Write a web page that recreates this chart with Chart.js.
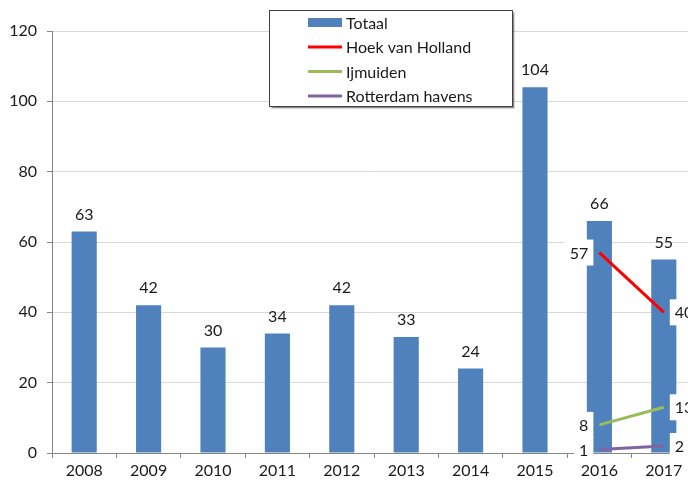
<!DOCTYPE html>
<html>
<head>
<meta charset="utf-8">
<script src="https://cdn.jsdelivr.net/npm/chart.js"></script>
<style>
  html, body { margin: 0; padding: 0; background: #fff; overflow: hidden; }
  #wrap { width: 700px; height: 485px; }
</style>
</head>
<body>
<div id="wrap"><canvas id="grafiek" width="700" height="485"></canvas></div>
<script>
// Gegevens
const jaren = ['2008', '2009', '2010', '2011', '2012', '2013', '2014', '2015', '2016', '2017'];
const totaal = [63, 42, 30, 34, 42, 33, 24, 104, 66, 55];

const lijnJaren = ['2016', '2017'];
const hoekVanHolland = [57, 40];
const ijmuiden = [8, 13];
const rotterdamHavens = [1, 2];

const FONT = "Lato, 'Open Sans', sans-serif";
const FONTGROOTTE = 16;
const TEKST = '#1a1a1a';

const punten = (waarden) => lijnJaren.map((j, i) => ({ x: j, y: waarden[i] }));

// waarden boven de staven
const staafLabels = {
  id: 'staafLabels',
  afterDatasetsDraw(chart, _args, opts) {
    const { ctx } = chart;
    ctx.save();
    ctx.font = `${FONTGROOTTE}px ${FONT}`;
    ctx.fillStyle = TEKST;
    ctx.textAlign = 'center';
    ctx.textBaseline = 'middle';
    chart.data.datasets.forEach((ds, di) => {
      if (ds.type !== 'bar') return;
      chart.getDatasetMeta(di).data.forEach((bar, i) => {
        ctx.fillText(String(ds.data[i]), bar.x, bar.y - opts.offset);
      });
    });
    ctx.restore();
  }
};

// labels bij de lijnpunten, met witte achtergrond
const lijnLabels = {
  id: 'lijnLabels',
  afterDatasetsDraw(chart, _args, opts) {
    const { ctx } = chart;
    ctx.save();
    ctx.font = `${FONTGROOTTE}px ${FONT}`;
    ctx.textAlign = 'center';
    ctx.textBaseline = 'middle';
    chart.data.datasets.forEach((ds, di) => {
      if (ds.type !== 'line') return;
      chart.getDatasetMeta(di).data.forEach((pt, i) => {
        const tekst = String(ds.data[i].y);
        const bw = ctx.measureText(tekst).width + 2 * opts.padX;
        const bh = opts.boxHeight;
        const bx = i === 0 ? pt.x - opts.gap - bw : pt.x + opts.gap;
        ctx.fillStyle = '#fff';
        ctx.fillRect(bx, pt.y - bh / 2, bw, bh);
        ctx.fillStyle = TEKST;
        ctx.fillText(tekst, bx + bw / 2, pt.y + 1);
      });
    });
    ctx.restore();
  }
};

// verticale legenda in een kader
const legendaKader = {
  id: 'legendaKader',
  afterDraw(chart, _args, o) {
    const { ctx } = chart;
    ctx.save();
    ctx.shadowColor = 'rgba(0,0,0,0.45)';
    ctx.shadowOffsetX = 1.5;
    ctx.shadowOffsetY = 1.5;
    ctx.shadowBlur = 1.5;
    ctx.fillStyle = '#fff';
    ctx.fillRect(o.x, o.y, o.width, o.height);
    ctx.restore();

    ctx.save();
    ctx.strokeStyle = '#404040';
    ctx.lineWidth = 1;
    ctx.strokeRect(o.x + 0.5, o.y + 0.5, o.width - 1, o.height - 1);
    ctx.font = `${FONTGROOTTE}px ${FONT}`;
    ctx.textBaseline = 'middle';
    ctx.textAlign = 'left';
    chart.data.datasets.forEach((ds, i) => {
      const cy = o.y + o.firstRow + i * o.rowStep;
      if (ds.type === 'bar') {
        ctx.fillStyle = ds.backgroundColor;
        ctx.fillRect(o.swatchX, cy - 4.5, o.swatchW, 9);
      } else {
        ctx.strokeStyle = ds.borderColor;
        ctx.lineWidth = 3;
        ctx.beginPath();
        ctx.moveTo(o.swatchX, cy);
        ctx.lineTo(o.swatchX + o.swatchW, cy);
        ctx.stroke();
      }
      ctx.fillStyle = TEKST;
      ctx.fillText(ds.label, o.swatchX + o.swatchW + 4, cy + 1);
    });
    ctx.restore();
  }
};

const lijn = (label, kleur, waarden) => ({
  type: 'line',
  label,
  data: punten(waarden),
  borderColor: kleur,
  backgroundColor: kleur,
  borderWidth: 3,
  pointRadius: 0,
  fill: false,
  order: 0
});

new Chart(document.getElementById('grafiek'), {
  data: {
    labels: jaren,
    datasets: [
      {
        type: 'bar',
        label: 'Totaal',
        data: totaal,
        backgroundColor: '#4f81bd',
        barPercentage: 0.39,
        categoryPercentage: 1,
        order: 1
      },
      lijn('Hoek van Holland', '#ff0000', hoekVanHolland),
      lijn('Ijmuiden', '#9bbb59', ijmuiden),
      lijn('Rotterdam havens', '#8064a2', rotterdamHavens)
    ]
  },
  options: {
    responsive: false,
    animation: false,
    layout: { padding: { top: 31, right: 4, left: 0, bottom: 0 } },
    plugins: {
      legend: { display: false },
      tooltip: { enabled: false },
      staafLabels: { offset: 17 },
      lijnLabels: { padX: 5, boxHeight: 26, gap: 6 },
      legendaKader: {
        x: 269, y: 10, width: 244, height: 97,
        firstRow: 12.5, rowStep: 24.5,
        swatchX: 308, swatchW: 34
      }
    },
    scales: {
      x: {
        offset: true,
        afterFit: (axis) => { axis.height = 32; },
        grid: {
          offset: true,
          drawOnChartArea: false,
          drawTicks: true,
          tickLength: 5,
          tickColor: '#868686'
        },
        border: { color: '#868686' },
        ticks: { color: TEKST, font: { family: FONT, size: FONTGROOTTE }, padding: 3, maxRotation: 0 }
      },
      y: {
        min: 0,
        max: 120,
        afterFit: (axis) => { axis.width = 52; },
        grid: {
          color: '#d9d9d9',
          tickColor: '#868686',
          tickLength: 5
        },
        border: { color: '#868686' },
        ticks: { stepSize: 20, color: TEKST, font: { family: FONT, size: FONTGROOTTE }, padding: 10 }
      }
    }
  },
  plugins: [staafLabels, lijnLabels, legendaKader]
});
</script>
</body>
</html>
